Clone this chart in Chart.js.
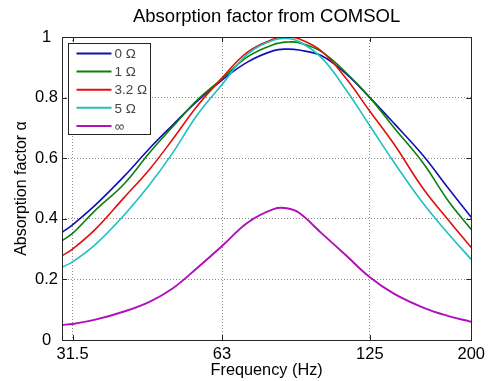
<!DOCTYPE html>
<html>
<head>
<meta charset="utf-8">
<script src="https://cdn.jsdelivr.net/npm/chart.js@4.4.0/dist/chart.umd.min.js"></script>
<style>
  html, body { margin: 0; padding: 0; background: #fff; }
  #wrap { width: 490px; height: 381px; }
</style>
</head>
<body>
<div id="wrap"><canvas id="absorption-chart" width="490" height="381"></canvas></div>
<script>
// frequencies (Hz) the curves were read at
const freqs = [30, 31.5, 35, 40, 45, 50, 56, 63, 71, 80, 85, 90, 100, 112, 125, 140, 160, 180, 200];

// absorption factor per termination resistance
const alpha0ohm  = [0.355, 0.380, 0.445, 0.540, 0.632, 0.708, 0.787, 0.858, 0.918, 0.955, 0.960, 0.957, 0.938, 0.878, 0.800, 0.714, 0.609, 0.500, 0.405];
const alpha1ohm  = [0.328, 0.352, 0.428, 0.515, 0.618, 0.702, 0.790, 0.862, 0.935, 0.975, 0.983, 0.981, 0.951, 0.882, 0.800, 0.700, 0.584, 0.458, 0.365];
const alpha32ohm = [0.278, 0.300, 0.365, 0.470, 0.563, 0.660, 0.770, 0.865, 0.951, 0.993, 1.000, 0.994, 0.953, 0.863, 0.755, 0.645, 0.500, 0.395, 0.305];
const alpha5ohm  = [0.240, 0.258, 0.315, 0.412, 0.512, 0.615, 0.740, 0.843, 0.944, 0.990, 0.995, 0.985, 0.931, 0.825, 0.707, 0.585, 0.451, 0.350, 0.266];
const alphaOpen  = [0.050, 0.053, 0.067, 0.094, 0.126, 0.169, 0.236, 0.310, 0.388, 0.432, 0.435, 0.420, 0.352, 0.279, 0.207, 0.152, 0.107, 0.079, 0.060];

const seriesLabels = ['0 Ω', '1 Ω', '3.2 Ω', '5 Ω', '∞'];
const seriesColors = ['#1010b4', '#0b7f0b', '#e01010', '#20c0c0', '#b010b8'];
const xTicks = [31.5, 63, 125, 200];
const yTicks = [0, 0.2, 0.4, 0.6, 0.8, 1];

const FONT = "'Liberation Sans', Arial, sans-serif";

const series = [alpha0ohm, alpha1ohm, alpha32ohm, alpha5ohm, alphaOpen];

// box around the plot, inward tick marks and the legend box
const frameAndLegend = {
  id: 'frameAndLegend',
  afterDatasetsDraw(chart) {
    const { ctx, chartArea: a, scales: { x, y } } = chart;
    ctx.save();
    ctx.strokeStyle = '#262626';
    ctx.lineWidth = 1;
    ctx.setLineDash([]);
    ctx.beginPath();
    xTicks.forEach(v => {
      const px = Math.round(x.getPixelForValue(v)) + 0.5;
      ctx.moveTo(px, a.bottom); ctx.lineTo(px, a.bottom - 5);
      ctx.moveTo(px, a.top); ctx.lineTo(px, a.top + 5);
    });
    yTicks.forEach(v => {
      const py = Math.round(y.getPixelForValue(v)) + 0.5;
      ctx.moveTo(a.left, py); ctx.lineTo(a.left + 5, py);
      ctx.moveTo(a.right, py); ctx.lineTo(a.right - 5, py);
    });
    ctx.stroke();
    ctx.strokeRect(Math.round(a.left) + 0.5, Math.round(a.top) + 0.5,
                   Math.round(a.right - a.left), Math.round(a.bottom - a.top));

    // legend
    const lx = Math.round(a.left) + 6.5, ly = Math.round(a.top) + 6.5;
    const w = 82, h = 91;
    ctx.fillStyle = '#fff';
    ctx.fillRect(lx, ly, w, h);
    ctx.strokeRect(lx, ly, w, h);
    ctx.font = '13.5px ' + FONT;
    ctx.textBaseline = 'middle';
    ctx.textAlign = 'left';
    chart.data.datasets.forEach((ds, i) => {
      const yy = ly + 10 + i * 18.1;
      ctx.strokeStyle = ds.borderColor;
      ctx.lineWidth = 2;
      ctx.beginPath();
      ctx.moveTo(lx + 8, yy);
      ctx.lineTo(lx + 43, yy);
      ctx.stroke();
      ctx.fillStyle = '#444';
      ctx.fillText(ds.label, lx + 46, yy + 1);
    });
    ctx.restore();
  }
};

const ctx = document.getElementById('absorption-chart').getContext('2d');
const absorptionChart = new Chart(ctx, {
  type: 'line',
  data: {
    datasets: series.map((vals, i) => ({
      label: seriesLabels[i],
      data: freqs.map((f, j) => ({ x: f, y: vals[j] })),
      borderColor: seriesColors[i],
      backgroundColor: seriesColors[i],
      borderWidth: i === 4 ? 1.9 : 1.6,
      pointRadius: 0,
      fill: false,
      tension: 0.4,
      order: 4 - i
    }))
  },
  options: {
    responsive: false,
    animation: false,
    layout: { padding: { left: 0, right: 17, top: 0, bottom: 0 } },
    plugins: {
      legend: { display: false },
      tooltip: { enabled: false },
      title: {
        display: true,
        text: 'Absorption factor from COMSOL',
        color: '#000',
        fullSize: false,
        font: { family: FONT, size: 18.5, weight: 'normal' },
        padding: { top: 6, bottom: 8.8 }
      }
    },
    scales: {
      x: {
        type: 'logarithmic',
        min: 30,
        max: 200,
        afterBuildTicks: scale => { scale.ticks = xTicks.map(v => ({ value: v })); },
        afterFit: scale => { scale.height = 41; },
        ticks: {
          autoSkip: false,
          maxRotation: 0,
          padding: 5,
          color: '#000',
          font: { family: FONT, size: 16.5 },
          callback: v => String(v)
        },
        grid: { color: '#8c8c8c', lineWidth: 1, drawTicks: false },
        border: { display: false, dash: [1, 2] },
        title: {
          display: true,
          text: 'Frequency (Hz)',
          color: '#000',
          font: { family: FONT, size: 16.3 },
          padding: { top: 0, bottom: 1 }
        }
      },
      y: {
        min: 0,
        max: 1,
        afterBuildTicks: scale => { scale.ticks = yTicks.map(v => ({ value: v })); },
        afterFit: scale => { scale.width = 62; },
        ticks: {
          padding: 4,
          crossAlign: 'center',
          color: '#000',
          font: { family: FONT, size: 16.5 },
          callback: v => String(v)
        },
        grid: { color: '#8c8c8c', lineWidth: 1, drawTicks: false },
        border: { display: false, dash: [1, 2] },
        title: {
          display: true,
          text: 'Absorption factor α',
          color: '#000',
          font: { family: FONT, size: 16 },
          padding: { top: 12, bottom: 0 }
        }
      }
    }
  },
  plugins: [frameAndLegend]
});
</script>
</body>
</html>
